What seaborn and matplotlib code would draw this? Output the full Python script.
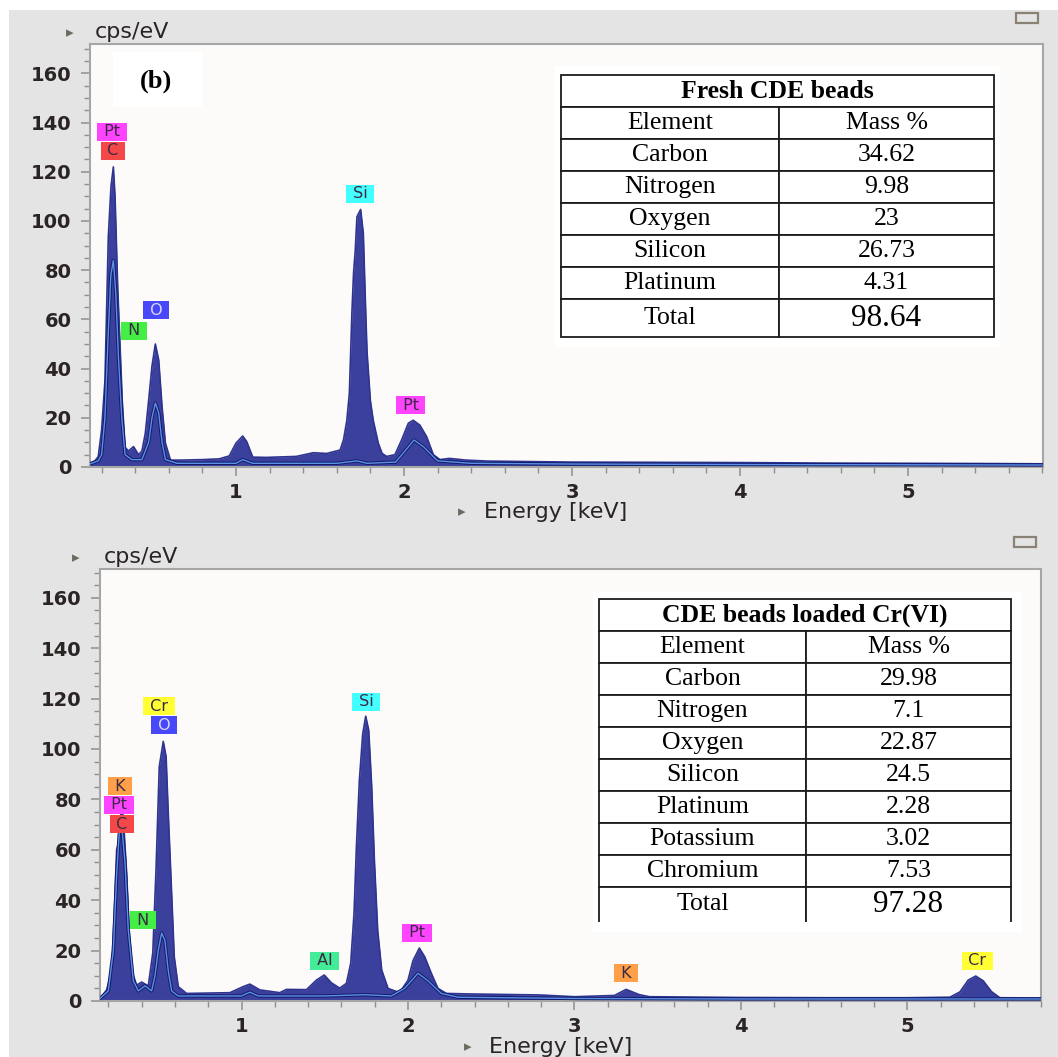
import numpy as np
import pandas as pd
import matplotlib
matplotlib.use("Agg")
import matplotlib.pyplot as plt
import seaborn as sns
from matplotlib.patches import Rectangle
from matplotlib.ticker import MultipleLocator

# ---------------- data ----------------
top_energy = [0.13, 0.16, 0.18, 0.20, 0.22, 0.24, 0.256, 0.27, 0.28, 0.296, 0.31, 0.323, 0.34, 0.36,
              0.39, 0.42, 0.44, 0.46, 0.48, 0.50, 0.52, 0.54, 0.56, 0.58, 0.61, 0.67, 0.80, 0.90, 0.96,
              1.00, 1.04, 1.064, 1.10, 1.18, 1.36, 1.46, 1.54, 1.62, 1.64, 1.66, 1.675, 1.69, 1.70, 1.71,
              1.72, 1.742, 1.758, 1.77, 1.78, 1.80, 1.817, 1.847, 1.87, 1.897, 1.946, 1.986, 2.026,
              2.055, 2.095, 2.135, 2.175, 2.214, 2.27, 2.37, 2.5, 3.0, 3.5, 4.0, 4.5, 5.0, 5.5, 5.8]
top_counts = [1.6, 2.5, 4.2, 15, 35, 93.6, 114, 122, 110, 73, 49, 27, 8, 6.5,
              8.3, 5, 6.5, 13.6, 27, 41, 50, 43.5, 24.5, 9.7, 2.8, 2.8, 3.0, 3.3, 4.5,
              9.7, 12.6, 10.3, 4, 3.9, 4.3, 5.8, 5.5, 6.9, 11, 19, 30, 62.6, 79, 88,
              101.7, 104.7, 95, 68, 47, 27, 19, 9.7, 5.5, 4.3, 5, 11, 17.8,
              19, 17, 12.3, 5, 3, 3.5, 2.8, 2.4, 2.0, 1.9, 1.8, 1.6, 1.5, 1.4, 1.3]
top_ref_energy = [0.13, 0.18, 0.20, 0.22, 0.24, 0.255, 0.27, 0.285, 0.30, 0.32, 0.34, 0.38, 0.44, 0.48,
                  0.50, 0.52, 0.54, 0.56, 0.58, 0.65, 1.00, 1.04, 1.10, 1.60, 1.72, 1.78, 1.95, 2.00,
                  2.06, 2.12, 2.20, 2.40, 3.0, 4.0, 5.0, 5.8]
top_ref_counts = [1.2, 2.5, 5, 20, 55, 78, 84, 70, 45, 20, 5, 3, 3, 10,
                  20, 26, 22, 10, 3, 1.5, 1.5, 3, 1.5, 1.5, 2.5, 1.5, 2, 6,
                  11, 8, 2.5, 1.5, 1.2, 1.0, 0.9, 0.8]

bot_energy = [0.15, 0.19, 0.22, 0.236, 0.25, 0.266, 0.28, 0.296, 0.31, 0.326, 0.346, 0.37, 0.40, 0.44,
              0.467, 0.487, 0.506, 0.53, 0.547, 0.56, 0.577, 0.596, 0.62, 0.67, 0.93, 1.01, 1.05, 1.11,
              1.23, 1.27, 1.39, 1.45, 1.497, 1.54, 1.59, 1.63, 1.656, 1.676, 1.69, 1.708, 1.728, 1.746,
              1.764, 1.782, 1.798, 1.818, 1.842, 1.88, 1.95, 2.00, 2.03, 2.068, 2.10, 2.14, 2.18, 2.23,
              2.37, 2.79, 3.0, 3.24, 3.31, 3.39, 3.45, 4.0, 4.5, 5.0, 5.255, 5.315, 5.365, 5.41, 5.455,
              5.505, 5.555, 5.8]
bot_counts = [1, 4.4, 12.3, 34.8, 60, 64, 80, 66, 50.8, 27, 11, 6.3, 7.5, 6,
              19, 53, 93, 103, 97, 74.6, 48, 17.6, 5.7, 3, 3.3, 5.7, 6.7, 4.4,
              3.3, 4.6, 4.5, 8.3, 10.3, 7.2, 5.1, 7, 15, 35, 61, 87.7, 106, 113,
              107.5, 85, 56, 28, 12.3, 5, 3.3, 8.3, 16, 21, 17.6, 11, 5, 3,
              2.8, 2.4, 1.7, 2.2, 4.6, 2.5, 1.7, 1.4, 1.3, 1.3, 1.5, 3.6, 8.3, 9.9, 8,
              3.7, 1.3, 1.2]
bot_ref_energy = [0.15, 0.20, 0.23, 0.25, 0.265, 0.28, 0.30, 0.32, 0.35, 0.38, 0.42, 0.46, 0.48, 0.50,
                  0.52, 0.54, 0.56, 0.58, 0.62, 1.00, 1.05, 1.10, 1.50, 1.74, 1.90, 1.98, 2.06, 2.12,
                  2.20, 2.30, 3.0, 4.0, 5.0, 5.8]
bot_ref_counts = [1, 4, 20, 50, 66, 70, 55, 28, 8, 4, 6, 4, 10, 20,
                  27, 24, 12, 4, 2, 2, 3.5, 2, 2, 2.5, 2, 5, 11, 8,
                  3, 1.5, 1.0, 0.8, 0.8, 0.8]

top_tags = ["Pt", "C", "Si", "O", "N", "Pt"]
top_tag_energy = [0.262, 0.268, 1.738, 0.524, 0.393, 2.04]
top_tag_level = [136.2, 128.5, 111, 63.8, 55.3, 25.2]

bot_tags = ["Cr", "O", "K", "Pt", "C", "N", "Si", "Al", "Pt", "K", "Cr"]
bot_tag_energy = [0.505, 0.535, 0.27, 0.264, 0.282, 0.408, 1.748, 1.50, 2.054, 3.31, 5.42]
bot_tag_level = [117, 109.5, 85.3, 77.8, 70.2, 32.1, 118.7, 15.9, 27, 11.1, 15.9]

tag_colors = {"Pt": "#ff44ff", "C": "#f44848", "Si": "#44ffff", "O": "#4848f8",
              "N": "#44ee44", "Al": "#44ec98", "K": "#ffa048", "Cr": "#ffff33"}

y_ticks = [0, 20, 40, 60, 80, 100, 120, 140, 160]
x_ticks = [1, 2, 3, 4, 5]

fresh_title = "Fresh CDE beads"
fresh_elements = ["Carbon", "Nitrogen", "Oxygen", "Silicon", "Platinum"]
fresh_mass = ["34.62", "9.98", "23", "26.73", "4.31"]
fresh_total = "98.64"

loaded_title = "CDE beads loaded Cr(VI)"
loaded_elements = ["Carbon", "Nitrogen", "Oxygen", "Silicon", "Platinum", "Potassium", "Chromium"]
loaded_mass = ["29.98", "7.1", "22.87", "24.5", "2.28", "3.02", "7.53"]
loaded_total = "97.28"

# ---------------- style ----------------
W, H = 1058, 1057
FILL = "#3a409c"
NAVY = "#141a6a"
LIGHT = "#5a92e6"
GREY_BG = "#e4e4e4"
AX_BG = "#fcfbfa"
TXT = "#2b2424"
TICK = "#8f8f8f"

sns.set_theme(style="white")
plt.rcParams["font.family"] = ["DejaVu Sans"]

fig = plt.figure(figsize=(W / 100, H / 100), dpi=100)
fig.patch.set_facecolor("white")

bg = fig.add_axes([0, 0, 1, 1], zorder=-5)
bg.set_xlim(0, W); bg.set_ylim(H, 0); bg.axis("off")
bg.add_patch(Rectangle((9, 10), W - 9, H - 10, facecolor=GREY_BG, edgecolor="none"))

ov = fig.add_axes([0, 0, 1, 1], zorder=10)
ov.set_xlim(0, W); ov.set_ylim(H, 0); ov.axis("off")
ov.patch.set_alpha(0)


def frac(x0, y0, x1, y1):
    return [x0 / W, 1 - y1 / H, (x1 - x0) / W, (y1 - y0) / H]


def spectrum_axes(box, xlim, ylim, e, c, re, rc, tags, tx, ty):
    ax = fig.add_axes(frac(*box), zorder=1)
    ax.set_facecolor(AX_BG)
    df = pd.DataFrame({"E": e, "C": c})
    ax.fill_between(df["E"], 0, df["C"], color=FILL, lw=0, zorder=2)
    sns.lineplot(data=df, x="E", y="C", ax=ax, color="#2e3490", lw=1.2, zorder=3,
                 estimator=None, sort=False)
    dfr = pd.DataFrame({"E": re, "C": rc})
    sns.lineplot(data=dfr, x="E", y="C", ax=ax, color=NAVY, lw=2.4, zorder=4,
                 estimator=None, sort=False)
    sns.lineplot(data=dfr, x="E", y="C", ax=ax, color=LIGHT, lw=1.0, zorder=5,
                 estimator=None, sort=False)
    ax.set_xlim(*xlim); ax.set_ylim(*ylim)
    ax.set_xlabel(""); ax.set_ylabel("")
    ax.set_xticks(x_ticks); ax.set_yticks(y_ticks)
    ax.xaxis.set_minor_locator(MultipleLocator(0.2))
    ax.yaxis.set_minor_locator(MultipleLocator(5))
    ax.tick_params(which="major", direction="out", length=6.5, width=1.1, color=TICK,
                   labelsize=14, labelcolor=TXT, bottom=True, left=True)
    ax.tick_params(which="minor", direction="out", length=4.5, width=1.0, color=TICK,
                   bottom=True, left=True)
    ax.tick_params(axis="y", pad=7)
    ax.tick_params(axis="x", pad=5)
    for lab in ax.get_xticklabels() + ax.get_yticklabels():
        lab.set_fontweight("bold")
    for s in ax.spines.values():
        s.set_color("#a6a6a6"); s.set_linewidth(1.5); s.set_visible(True)
    for name, ex, ey in zip(tags, tx, ty):
        ax.text(ex, ey, " " + name + " ", ha="center", va="center", fontsize=11.5,
                color="#d8d8ff" if name == "O" else "#3a2a44", zorder=8,
                bbox=dict(boxstyle="square,pad=0.1", fc=tag_colors[name], ec="none"))
    return ax


ax1 = spectrum_axes((90, 44, 1043, 467), (0.131, 5.804), (0, 171.95),
                    top_energy, top_counts, top_ref_energy, top_ref_counts,
                    top_tags, top_tag_energy, top_tag_level)
ax2 = spectrum_axes((100, 569, 1041, 1001), (0.150, 5.802), (0, 171.4),
                    bot_energy, bot_counts, bot_ref_energy, bot_ref_counts,
                    bot_tags, bot_tag_energy, bot_tag_level)

# axis captions and decorations
for (tx, ty), (cx, cy) in [((70, 33), (95, 32)), ((76, 558), (104, 557))]:
    ov.text(tx, ty, "\u25B8", ha="center", va="center", fontsize=11, color="#6c6a60")
    ov.text(cx, cy, "cps/eV", ha="left", va="center", fontsize=16, color=TXT)
for (tx, ty), (cx, cy) in [((462, 512), (484, 512)), ((468, 1047), (489, 1047))]:
    ov.text(tx, ty, "\u25B8", ha="center", va="center", fontsize=11, color="#6c6a60")
    ov.text(cx, cy, "Energy [keV]", ha="left", va="center", fontsize=16, color=TXT)
for (x0, y0) in [(1016, 13), (1014, 537)]:
    ov.add_patch(Rectangle((x0, y0), 22, 10, facecolor=GREY_BG, edgecolor="#8a8274", lw=1.6))

# (b) label
ov.add_patch(Rectangle((113, 52), 89, 55, facecolor="white", edgecolor="none", zorder=1))
ov.text(156, 81, "(b)", ha="center", va="center", fontsize=19, fontweight="bold",
        family="Liberation Serif", color="black", zorder=2)


def style_table(tab, size, bold=False, edges=None):
    tab.auto_set_font_size(False)
    tab.set_zorder(5)
    for (r, c), cell in tab.get_celld().items():
        cell.set_linewidth(1.3)
        cell.set_edgecolor("#1c1c1c")
        cell.set_facecolor("white")
        t = cell.get_text()
        t.set_fontfamily("Liberation Serif")
        t.set_fontsize(size)
        t.set_fontweight("bold" if bold else "normal")
        t.set_color("black")
        if edges:
            cell.visible_edges = edges


def draw_table(x0, xm, x1, ytop, row_h, total_h, title, elements, masses, total, open_bottom, bgbox):
    ov.add_patch(Rectangle((bgbox[0], bgbox[1]), bgbox[2] - bgbox[0], bgbox[3] - bgbox[1],
                           facecolor="white", edgecolor="none", zorder=1))
    cw = [(xm - x0) / (x1 - x0), (x1 - xm) / (x1 - x0)]
    t1 = ov.table(cellText=[[title]], cellLoc="center", bbox=frac(x0, ytop, x1, ytop + row_h))
    style_table(t1, 18.5, bold=True)
    body = [["Element", "Mass %"]] + [[a, b] for a, b in zip(elements, masses)]
    yb = ytop + row_h
    ye = yb + row_h * len(body)
    t2 = ov.table(cellText=body, cellLoc="center", colWidths=cw, bbox=frac(x0, yb, x1, ye))
    style_table(t2, 18.5)
    t3 = ov.table(cellText=[["Total", total]], cellLoc="center", colWidths=cw,
                  bbox=frac(x0, ye, x1, ye + total_h))
    style_table(t3, 18.5, edges="LRT" if open_bottom else None)
    t3[0, 1].get_text().set_fontsize(22.5)


draw_table(561, 779, 994, 75, 32, 38, fresh_title, fresh_elements, fresh_mass, fresh_total,
           False, (555, 66, 1000, 347))
draw_table(599, 806, 1011, 599, 32, 35, loaded_title, loaded_elements, loaded_mass, loaded_total,
           True, (593, 592, 1022, 932))

fig.savefig("out.png", dpi=100, facecolor=fig.get_facecolor())
